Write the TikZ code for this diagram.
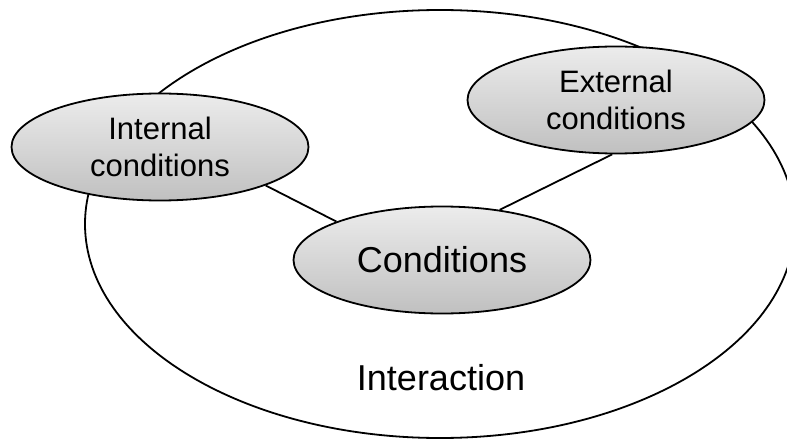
\documentclass[tikz,border=0pt]{standalone}
\usepackage{fontspec}
\setmainfont{Liberation Sans}
\usetikzlibrary{shapes.geometric,backgrounds}
\definecolor{shadetop}{RGB}{236,236,236}
\definecolor{shadebot}{RGB}{192,192,192}
\tikzset{
  bubble/.style={ellipse, draw=black, line width=1.8pt, top color=shadetop, bottom color=shadebot,
    minimum width=297pt, minimum height=107pt, inner sep=0pt, align=center,
    font=\fontsize{31}{37}\selectfont},
  mainbubble/.style={bubble, font=\fontsize{36}{40}\selectfont},
  link/.style={draw=black, line width=1.8pt},
  outer/.style={ellipse, draw=black, line width=1.8pt, minimum width=710pt, minimum height=428pt, inner sep=0pt},
  biglabel/.style={font=\fontsize{36}{40}\selectfont, inner sep=0pt}
}
\begin{document}
\begin{tikzpicture}[x=1pt,y=-1pt]
\useasboundingbox (0,0) rectangle (787,441);
\node[outer] (big) at (440,224) {};
\node[biglabel, anchor=base] (inter) at (441,390) {Interaction};
\node[mainbubble] (cond) at (442,260) {Conditions};
\node[bubble] (int) at (160,147) {Internal\\conditions};
\node[bubble] (ext) at (616,100) {External\\conditions};
\begin{pgfonlayer}{background}
\draw[link] (int.-20) -- (cond.160);
\draw[link] (ext.-94) -- (cond.41);
\end{pgfonlayer}
\end{tikzpicture}
\end{document}
